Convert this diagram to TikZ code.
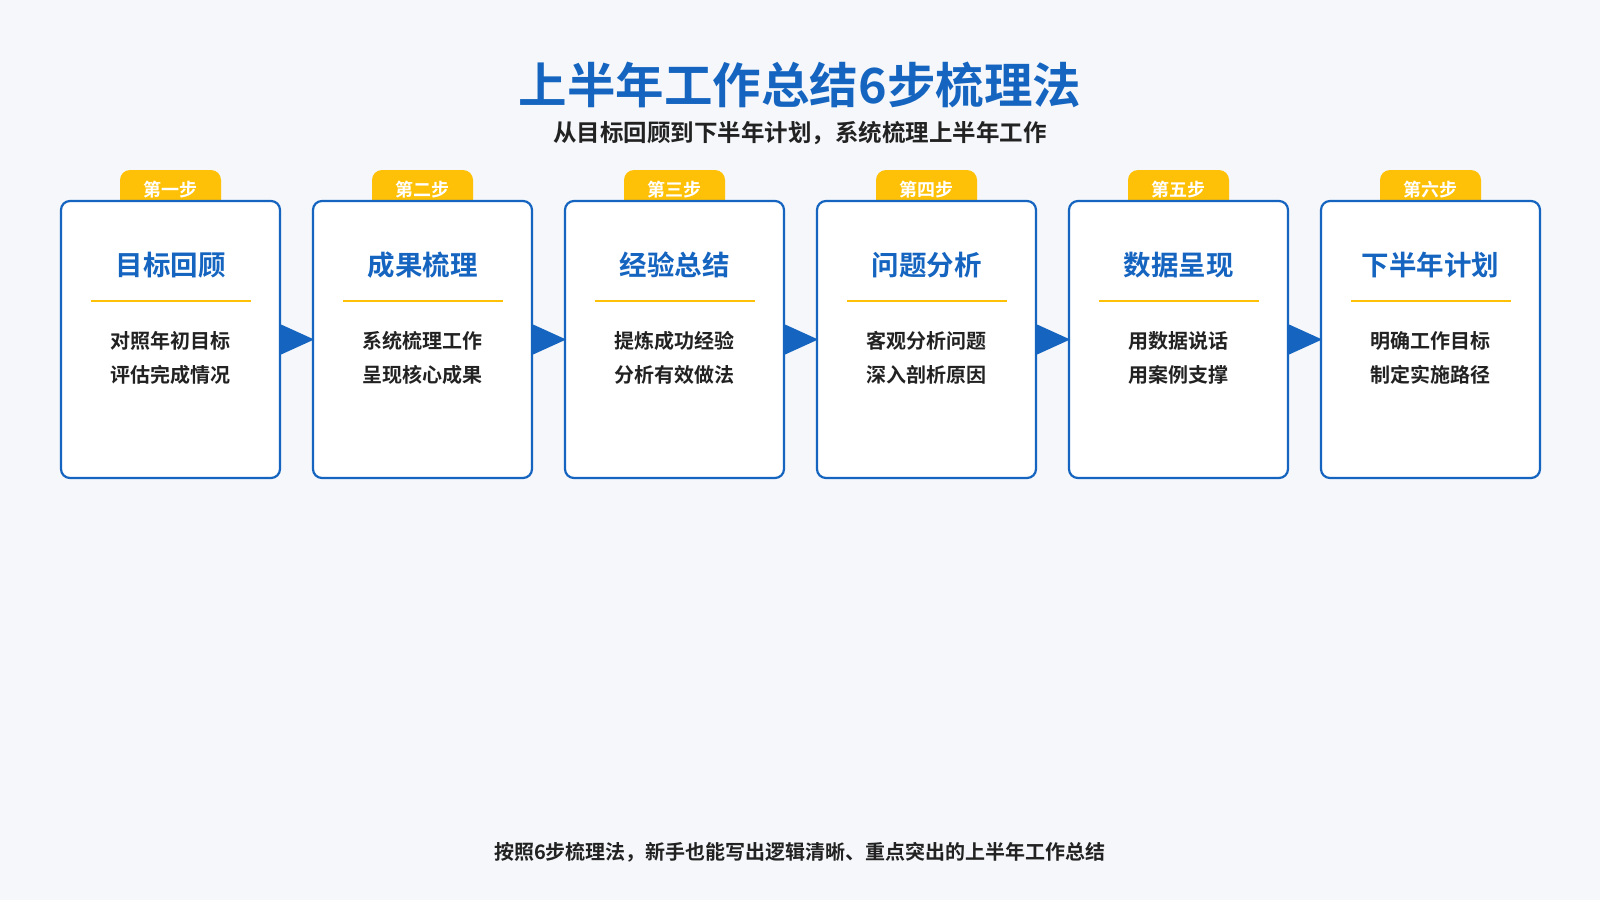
\documentclass[tikz,border=0pt]{standalone}
\usepackage{fontspec}
\setmainfont{Noto Sans CJK SC}[BoldFont={Noto Sans CJK SC Bold}]
\definecolor{bg}{HTML}{F5F7FA}
\definecolor{mblue}{HTML}{1565C0}
\definecolor{myel}{HTML}{FFC107}
\definecolor{dtext}{HTML}{222222}
\begin{document}
\begin{tikzpicture}[x=1pt,y=-1pt,
  card/.style={draw=mblue,line width=2.2pt,fill=white,rounded corners=9pt,minimum width=219pt,minimum height=277pt,inner sep=0pt},
  badge/.style={fill=myel,rounded corners=10pt,minimum width=101pt,minimum height=40pt,inner sep=0pt},
  badgetxt/.style={font=\fontsize{18}{18}\selectfont\bfseries,text=white},
  ctitle/.style={font=\fontsize{27.5}{27.5}\selectfont\bfseries,text=mblue},
  body/.style={font=\fontsize{20}{34}\selectfont\bfseries,text=dtext,align=center},
  arr/.style={fill=mblue}]
\fill[bg] (0,0) rectangle (1600,900);
\useasboundingbox (0,0) rectangle (1600,900);
\node[font=\fontsize{48.5}{48.5}\selectfont\bfseries,text=mblue] (title) at (800,85) {上半年工作总结6步梳理法};
\node[font=\fontsize{23.5}{23.5}\selectfont\bfseries,text=dtext] (sub) at (800,133) {从目标回顾到下半年计划，系统梳理上半年工作};
\foreach \i/\b/\t/\la/\lb in {0/第一步/目标回顾/对照年初目标/评估完成情况,
  1/第二步/成果梳理/系统梳理工作/呈现核心成果,
  2/第三步/经验总结/提炼成功经验/分析有效做法,
  3/第四步/问题分析/客观分析问题/深入剖析原因,
  4/第五步/数据呈现/用数据说话/用案例支撑,
  5/第六步/下半年计划/明确工作目标/制定实施路径}{
  \pgfmathsetmacro{\cx}{170.5+252*\i}
  \node[badge] (bd\i) at (\cx,190) {};
  \node[card] (c\i) at (\cx,339.5) {};
  \node[badgetxt] (bt\i) at (\cx,190) {\b};
  \node[ctitle] (t\i) at (\cx,265) {\t};
  \draw[myel,line width=1.6pt] (\cx-80,301) coordinate (l\i) -- (\cx+80,301) coordinate (r\i);
  \node[body] (b\i) at (\cx,358) {\la\\\lb};
}
\foreach \i in {0,...,4}{
  \fill[arr] (c\i.east) ++(0,-15) -- ++(33,15) -- ++(-33,15) -- cycle;
}
\node[font=\fontsize{20}{20}\selectfont\bfseries,text=dtext] (foot) at (800,852) {按照6步梳理法，新手也能写出逻辑清晰、重点突出的上半年工作总结};
\end{tikzpicture}
\end{document}
